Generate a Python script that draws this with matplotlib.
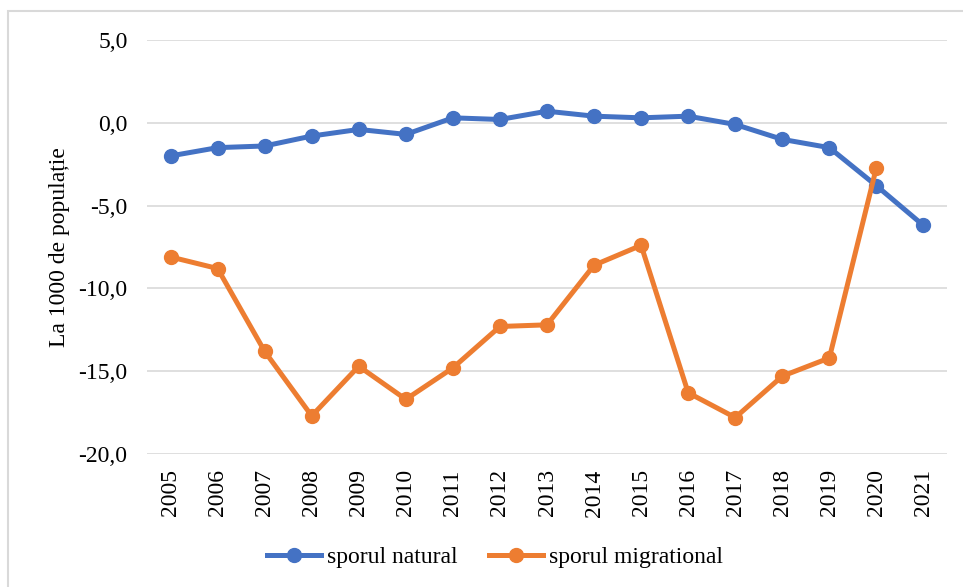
import matplotlib
matplotlib.use("Agg")
import matplotlib.pyplot as plt
from matplotlib.patches import Rectangle
from matplotlib.ticker import FuncFormatter

plt.rcParams['font.family'] = ['Liberation Serif', 'DejaVu Serif']

# data
years = [str(y) for y in range(2005, 2022)]
natural = [-2.0, -1.5, -1.4, -0.8, -0.4, -0.7, 0.3, 0.2, 0.7, 0.4, 0.3, 0.4,
           -0.1, -1.0, -1.5, -3.8, -6.2]
migrational = [-8.1, -8.8, -13.8, -17.7, -14.7, -16.7, -14.8, -12.3, -12.2,
               -8.6, -7.4, -16.3, -17.8, -15.3, -14.2, -2.7]
y_ticks = [-20, -15, -10, -5, 0, 5]

blue = "#4472C4"
orange = "#ED7D31"
fs = 17

fig = plt.figure(figsize=(9.63, 5.87), dpi=100)
ax = fig.add_axes([147/963, 1 - 454/587, 800/963, 414/587])

x = list(range(len(years)))
ax.plot(x, natural, color=blue, lw=3.6, marker='o', ms=10, label="sporul natural")
ax.plot(x[:len(migrational)], migrational, color=orange, lw=3.6, marker='o', ms=10,
        label="sporul migrational")

ax.set_xlim(-0.5, len(years) - 0.5)
ax.set_ylim(-20, 5)
ax.set_yticks(y_ticks)
ax.yaxis.set_major_formatter(FuncFormatter(lambda v, p: f"{v:.1f}".replace(".", ",")))
ax.set_xticks(x)
ax.set_xticklabels(years, rotation=90)
ax.tick_params(axis='both', length=0, labelsize=fs, colors="#000000")
ax.tick_params(axis='y', pad=14)
ax.tick_params(axis='x', pad=11)

ax.grid(axis='y', color="#D9D9D9", lw=1.2)
ax.set_axisbelow(True)
for s in ax.spines.values():
    s.set_visible(False)

fig.text(60/963, 1 - 247/587, "La 1000 de populație", rotation=90,
         ha='center', va='center', fontsize=fs)

fig.legend(loc='center', bbox_to_anchor=(495/963, 1 - 557/587), ncol=2,
           frameon=False, fontsize=fs, handlelength=2.3, handletextpad=0.25,
           columnspacing=1.3)

# outer chart border (partly cropped)
fig.patches.append(Rectangle((8/963, -0.1), 1.1, 1.1 - 11/587,
                             transform=fig.transFigure, fill=False,
                             edgecolor="#D9D9D9", lw=1.5))

fig.savefig("out.png", dpi=100)
